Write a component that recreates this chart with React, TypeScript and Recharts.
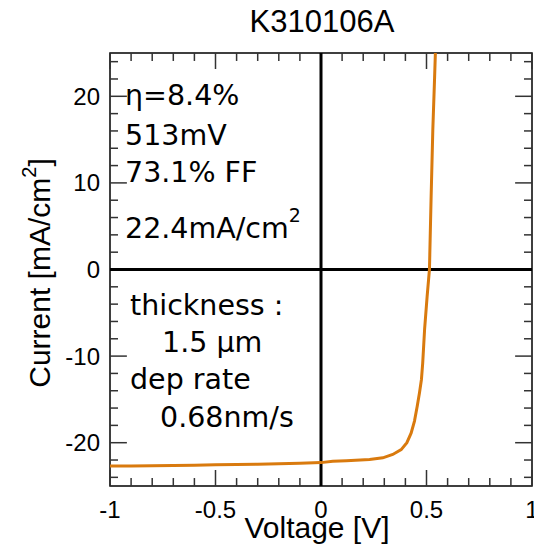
import React from 'react';
import { LineChart, Line, XAxis, YAxis, ReferenceLine, ReferenceArea } from 'recharts';

const voltage = [-1.0, -0.9, -0.8, -0.7, -0.6, -0.5, -0.4, -0.3, -0.2, -0.1, 0.0, 0.056, 0.12, 0.23, 0.293, 0.34, 0.38, 0.407, 0.427, 0.443, 0.456, 0.467, 0.476, 0.482, 0.491, 0.503, 0.514, 0.522, 0.53, 0.538, 0.546];
const current = [-22.7, -22.68, -22.65, -22.62, -22.6, -22.55, -22.52, -22.48, -22.42, -22.36, -22.3, -22.15, -22.08, -21.94, -21.75, -21.36, -20.8, -20.0, -18.9, -17.5, -15.8, -14.2, -12.7, -10.8, -6.9, -3.1, 0.0, 8.5, 16.2, 21.9, 28.0];

const xMajorTicks = [-1, -0.5, 0, 0.5, 1];
const xMinorTicks = [-0.9, -0.8, -0.7, -0.6, -0.4, -0.3, -0.2, -0.1, 0.1, 0.2, 0.3, 0.4, 0.6, 0.7, 0.8, 0.9];
const yMajorTicks = [-20, -10, 0, 10, 20];
const yMinorTicks = [-24, -22, -18, -16, -14, -12, -8, -6, -4, -2, 2, 4, 6, 8, 12, 14, 16, 18, 22, 24];

const title = 'K310106A';
const xLabel = 'Voltage [V]';
const yLabel = 'Current [mA/cm';
const statLines = ['η=8.4%', '513mV', '73.1% FF'];
const jscText = '22.4mA/cm';
const infoLines = ['thickness :', '1.5 μm', 'dep rate', '0.68nm/s'];

const data = voltage.map((v, k) => ({ v, i: current[k] }));

const X_MIN = -1, X_MAX = 1, Y_MIN = -25, Y_MAX = 25;
const tickColor = '#333';
const curveColor = '#D97A0E';
const sansFont = '"Liberation Sans", Arial, Helvetica, sans-serif';
const noteFont = '"DejaVu Sans", Verdana, sans-serif';

export default function App() {
  const xMajLen = 1.85, xMinLen = 0.92, yMajLen = 0.08, yMinLen = 0.038;
  const tickLines: React.ReactNode[] = [];
  xMajorTicks.forEach((t, k) => {
    tickLines.push(<ReferenceLine key={'xbM' + k} segment={[{ x: t, y: Y_MIN }, { x: t, y: Y_MIN + xMajLen }]} stroke={tickColor} strokeWidth={1.5} />);
    tickLines.push(<ReferenceLine key={'xtM' + k} segment={[{ x: t, y: Y_MAX }, { x: t, y: Y_MAX - xMajLen }]} stroke={tickColor} strokeWidth={1.5} />);
  });
  xMinorTicks.forEach((t, k) => {
    tickLines.push(<ReferenceLine key={'xbm' + k} segment={[{ x: t, y: Y_MIN }, { x: t, y: Y_MIN + xMinLen }]} stroke={tickColor} strokeWidth={1.5} />);
    tickLines.push(<ReferenceLine key={'xtm' + k} segment={[{ x: t, y: Y_MAX }, { x: t, y: Y_MAX - xMinLen }]} stroke={tickColor} strokeWidth={1.5} />);
  });
  yMajorTicks.forEach((t, k) => {
    tickLines.push(<ReferenceLine key={'ylM' + k} segment={[{ x: X_MIN, y: t }, { x: X_MIN + yMajLen, y: t }]} stroke={tickColor} strokeWidth={1.5} />);
    tickLines.push(<ReferenceLine key={'yrM' + k} segment={[{ x: X_MAX, y: t }, { x: X_MAX - yMajLen, y: t }]} stroke={tickColor} strokeWidth={1.5} />);
  });
  yMinorTicks.forEach((t, k) => {
    tickLines.push(<ReferenceLine key={'ylm' + k} segment={[{ x: X_MIN, y: t }, { x: X_MIN + yMinLen, y: t }]} stroke={tickColor} strokeWidth={1.5} />);
    tickLines.push(<ReferenceLine key={'yrm' + k} segment={[{ x: X_MAX, y: t }, { x: X_MAX - yMinLen, y: t }]} stroke={tickColor} strokeWidth={1.5} />);
  });

  return (
    <div style={{ position: 'absolute', left: 0, top: 0, width: 534, height: 547, background: '#fff' }}>
      <LineChart width={534} height={547} data={data} margin={{ top: 53, right: 2, bottom: 0, left: 0 }}>
        <XAxis
          type="number"
          dataKey="v"
          domain={[X_MIN, X_MAX]}
          ticks={xMajorTicks}
          interval={0}
          height={61}
          axisLine={false}
          tickLine={false}
          tickSize={0}
          tickMargin={15}
          tick={{ fill: '#000', fontSize: 24, fontFamily: sansFont }}
        />
        <YAxis
          type="number"
          domain={[Y_MIN, Y_MAX]}
          allowDataOverflow
          ticks={yMajorTicks}
          interval={0}
          width={110}
          axisLine={false}
          tickLine={false}
          tickSize={0}
          tickMargin={10}
          tick={{ fill: '#000', fontSize: 24, fontFamily: sansFont }}
        />
        {tickLines}
        <ReferenceArea x1={X_MIN} x2={X_MAX} y1={Y_MIN} y2={Y_MAX} fill="none" stroke="#000" strokeWidth={1.5} fillOpacity={0} />
        <ReferenceLine x={0} stroke="#000" strokeWidth={3} />
        <ReferenceLine y={0} stroke="#000" strokeWidth={3} />
        <Line type="linear" dataKey="i" stroke={curveColor} strokeWidth={3} dot={false} isAnimationActive={false} />
      </LineChart>
      <svg width={534} height={547} style={{ position: 'absolute', left: 0, top: 0, pointerEvents: 'none' }}>
        <text x={322} y={32} textAnchor="middle" fontSize={31} fontFamily={sansFont} fill="#000">{title}</text>
        <text x={317} y={538} textAnchor="middle" fontSize={30} fontFamily={sansFont} fill="#000">{xLabel}</text>
        <text x={50} y={273} textAnchor="middle" fontSize={30} fontFamily={sansFont} fill="#000" transform="rotate(-90 50 273)">
          {yLabel}
          <tspan dy={-14} fontSize={20}>2</tspan>
          <tspan dy={14}>]</tspan>
        </text>
        {statLines.map((s, k) => (
          <text key={s} x={125} y={[105, 145, 182][k]} fontSize={28.5} fontFamily={noteFont} fill="#000">{s}</text>
        ))}
        <text x={125} y={238} fontSize={28.5} fontFamily={noteFont} fill="#000">
          {jscText}
          <tspan dy={-16} fontSize={19}>2</tspan>
        </text>
        {infoLines.map((s, k) => (
          <text key={s} x={[130, 162, 130, 160][k]} y={[315, 352, 389, 427][k]} fontSize={28.5} fontFamily={noteFont} fill="#000">{s}</text>
        ))}
      </svg>
    </div>
  );
}
